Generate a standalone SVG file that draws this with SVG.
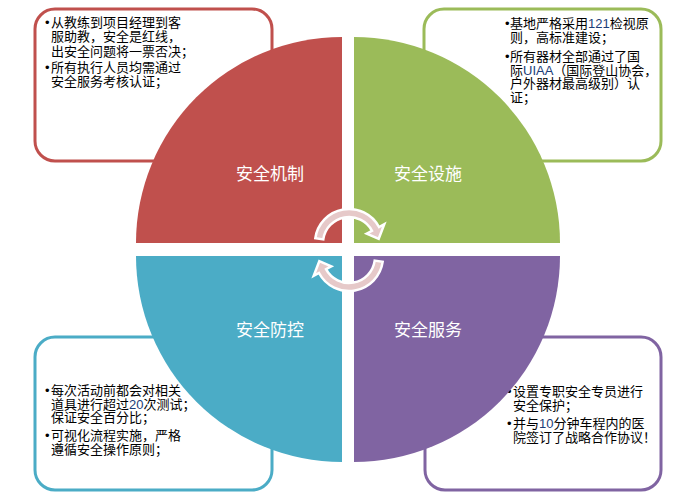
<svg xmlns="http://www.w3.org/2000/svg" xmlns:xlink="http://www.w3.org/1999/xlink" width="690" height="500" viewBox="0 0 690 500">
<style>
.box{fill:#ffffff;stroke-width:3}
.t{font-family:"Liberation Sans","Noto Sans CJK SC",sans-serif;font-size:13px;fill:#000000}
.num{fill:#1c3d78}
.lab{font-family:"Liberation Sans","Noto Sans CJK SC",sans-serif;font-size:17px;fill:#ffffff;text-anchor:middle}
.arr{fill:#e6c9c9;stroke:#ffffff;stroke-width:2.5;stroke-linejoin:miter}
</style>
<defs>
<path id="arc" d="M315.3,238.3 A34,34 0 0 1 379.0,227.0 L384.3,224.2 L378.7,238.8 L366.7,233.6 L372.0,230.8 A26,26 0 0 0 323.3,239.4 Z"/>
</defs>
<rect width="690" height="500" fill="#ffffff"/>
<g id="box-mechanism">
<rect class="box" x="35" y="9" width="237" height="152" rx="20" stroke="#c0504d"/>
<text class="t"><tspan x="45" y="27">•</tspan><tspan x="51" y="27">从教练到项目经理到客</tspan><tspan x="51" y="41">服助教，安全是红线，</tspan><tspan x="51" y="56">出安全问题将一票否决；</tspan><tspan x="45" y="72">•</tspan><tspan x="51" y="72">所有执行人员均需通过</tspan><tspan x="51" y="86">安全服务考核认证；</tspan></text>
</g>
<g id="box-facility">
<rect class="box" x="424" y="9" width="237" height="152" rx="20" stroke="#9bbb59"/>
<text class="t"><tspan x="505" y="28">•</tspan><tspan x="510" y="28">基地严格采用<tspan class="num">121</tspan>检视原</tspan><tspan x="510" y="41.5">则，高标准建设；</tspan><tspan x="505" y="61">•</tspan><tspan x="510" y="61">所有器材全部通过了国</tspan><tspan x="510" y="74.5">际<tspan class="num">UIAA</tspan>（国际登山协会，</tspan><tspan x="510" y="88">户外器材最高级别）认</tspan><tspan x="510" y="101.5">证；</tspan></text>
</g>
<g id="box-control">
<rect class="box" x="35" y="337" width="237" height="153" rx="20" stroke="#4bacc6"/>
<text class="t"><tspan x="45" y="395">•</tspan><tspan x="51" y="395">每次活动前都会对相关</tspan><tspan x="51" y="408.5">道具进行超过<tspan class="num">20</tspan>次测试；</tspan><tspan x="51" y="422">保证安全百分比；</tspan><tspan x="45" y="440">•</tspan><tspan x="51" y="440">可视化流程实施，严格</tspan><tspan x="51" y="453.5">遵循安全操作原则；</tspan></text>
</g>
<g id="box-service">
<rect class="box" x="425" y="337" width="236" height="153" rx="20" stroke="#8064a2"/>
<text class="t"><tspan x="507" y="396">•</tspan><tspan x="513" y="396">设置专职安全专员进行</tspan><tspan x="513" y="410">安全保护；</tspan><tspan x="507" y="428">•</tspan><tspan x="513" y="428">并与<tspan class="num">10</tspan>分钟车程内的医</tspan><tspan x="513" y="441.5">院签订了战略合作协议！</tspan></text>
</g>
<g id="node-mechanism">
<path d="M342,243 L136,243 A206,206 0 0 1 342,37 Z" fill="#c0504d"/>
<text class="lab" x="270" y="180">安全机制</text>
</g>
<g id="node-facility">
<path d="M354,243 L354,37 A206,206 0 0 1 560,243 Z" fill="#9bbb59"/>
<text class="lab" x="428" y="180">安全设施</text>
</g>
<g id="node-control">
<path d="M342,256 L342,462 A206,206 0 0 1 136,256 Z" fill="#4bacc6"/>
<text class="lab" x="270" y="336">安全防控</text>
</g>
<g id="node-service">
<path d="M354,256 L560,256 A206,206 0 0 1 354,462 Z" fill="#8064a2"/>
<text class="lab" x="428" y="336">安全服务</text>
</g>
<g id="connectors">
<use xlink:href="#arc" class="arr"/>
<use xlink:href="#arc" class="arr" transform="rotate(180 349 250)"/>
</g>
</svg>
